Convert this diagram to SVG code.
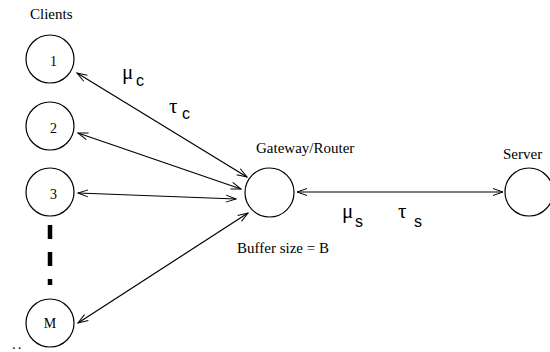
<svg xmlns="http://www.w3.org/2000/svg" width="550" height="352" viewBox="0 0 550 352">
<style>
.node{fill:none;stroke:#000;stroke-width:1.2}
.lbl{font-family:"Liberation Serif","Times New Roman",serif;font-size:15px;fill:#000}
.num{font-family:"Liberation Serif","Times New Roman",serif;font-size:14px;fill:#000}
.gr{font-family:"Liberation Serif","Times New Roman",serif;font-size:21px;fill:#000}
.sub{font-family:"Liberation Sans",Arial,sans-serif;font-size:16px;fill:#000}
.conn{fill:none;stroke:#000;stroke-width:1.2;marker-start:url(#arr);marker-end:url(#arr)}
</style>
<defs>
<marker id="arr" viewBox="-11 -5 13 10" refX="0" refY="0" markerWidth="13" markerHeight="10" markerUnits="userSpaceOnUse" orient="auto-start-reverse">
<path d="M-10,-3.5 L0,0 L-10,3.5" fill="none" stroke="#000" stroke-width="1"/>
</marker>
</defs>
<rect width="550" height="352" fill="#fff"/>
<text class="lbl" x="30" y="19">Clients</text>
<g id="client1"><circle class="node" cx="50" cy="59" r="24"/><text class="num" x="53.5" y="66" text-anchor="middle">1</text></g>
<g id="client2"><circle class="node" cx="50" cy="126" r="24"/><text class="num" x="53.5" y="133" text-anchor="middle">2</text></g>
<g id="client3"><circle class="node" cx="50" cy="192" r="24"/><text class="num" x="53.5" y="198.5" text-anchor="middle">3</text></g>
<g id="clientM"><circle class="node" cx="50" cy="323" r="24"/><text class="num" x="50" y="327.5" text-anchor="middle">M</text></g>
<g id="gateway"><circle class="node" cx="269.5" cy="192.5" r="24.5"/><text class="lbl" x="256" y="153">Gateway/Router</text><text class="lbl" x="237" y="253">Buffer size = B</text></g>
<g id="server"><circle class="node" cx="529" cy="192" r="24"/><text class="lbl" x="503" y="159">Server</text></g>
<line x1="50" y1="225" x2="50" y2="285" stroke="#000" stroke-width="4.5" stroke-dasharray="14 13"/>
<text class="lbl" x="12" y="349" font-size="12" letter-spacing="2">..</text>
<g id="connectors">
<line class="conn" x1="77" y1="73" x2="247" y2="177"/>
<line class="conn" x1="78" y1="133" x2="241" y2="189"/>
<line class="conn" x1="78" y1="193" x2="236" y2="199"/>
<line class="conn" x1="78" y1="323" x2="248" y2="213"/>
<line class="conn" x1="297" y1="192" x2="503" y2="192"/>
</g>
<g id="labels">
<text class="gr" x="122" y="79">μ</text><text class="sub" x="136" y="86">c</text>
<text class="gr" x="169" y="113">τ</text><text class="sub" x="182" y="119">c</text>
<text class="gr" x="342" y="218">μ</text><text class="sub" x="355" y="227">s</text>
<text class="gr" x="398" y="218">τ</text><text class="sub" x="414" y="227">s</text>
</g>
</svg>
